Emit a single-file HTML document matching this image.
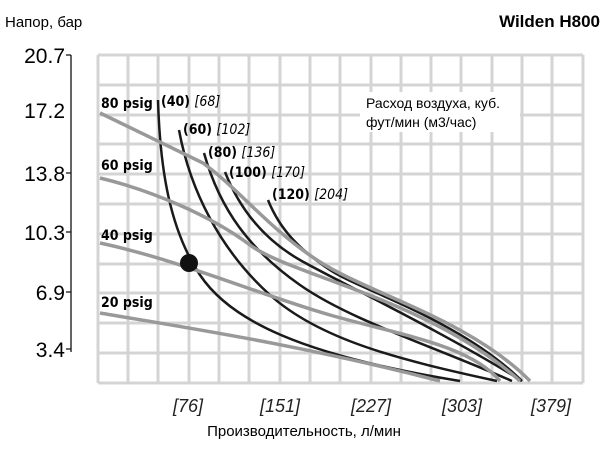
<html><body style="margin:0;background:#fff">
<svg width="606" height="454" xmlns="http://www.w3.org/2000/svg" font-family="Liberation Sans, sans-serif">
<rect width="606" height="454" fill="#fff"/>
<g stroke="#d4d4d4" stroke-width="3">
<path d="M98,55V383M128,55V383M158,55V383M189,55V383M219,55V383M249,55V383M280,55V383M310,55V383M340,55V383M371,55V383M401,55V383M431,55V383M461,55V383M492,55V383M522,55V383M552,55V383M583,55V383"/>
<path d="M98,55H583M98,85H583M98,115H583M98,144H583M98,174H583M98,204H583M98,234H583M98,264H583M98,293H583M98,323H583M98,353H583M98,383H583"/>
</g>
<rect x="360" y="92" width="160" height="40" fill="#fff"/>
<text x="366" y="108" font-size="14">Расход воздуха, куб.</text>
<text x="366" y="127" font-size="14">фут/мин (м3/час)</text>
<g fill="none" stroke="#1a1a1a" stroke-width="2.5">
<path d="M158,100 C160,170 170,230 200,275 S300,355 460,381"/>
<path d="M179,130 C190,190 220,250 270,295 S400,360 497,381"/>
<path d="M204,153 C220,210 250,250 300,285 S430,345 512,381"/>
<path d="M225,172 C240,210 265,240 300,260 S440,330 522,381"/>
<path d="M268,200 C280,230 300,250 330,270 S460,320 522,381"/>
</g>
<g fill="none" stroke="#999" stroke-width="3.5">
<path d="M100,113 L203,163 C240,190 270,230 320,262 S470,320 530,381"/>
<path d="M100,178 C150,190 210,215 250,245 S430,300 520,381"/>
<path d="M100,243 C180,260 260,295 330,315 S470,345 500,381"/>
<path d="M100,313 C200,330 300,345 440,381"/>
</g>
<circle cx="189" cy="263" r="9" fill="#111"/>
<g font-size="14" font-weight="bold" font-family="DejaVu Sans Condensed, Liberation Sans, sans-serif">
<text x="101" y="108">80 psig</text>
<text x="101" y="170">60 psig</text>
<text x="101" y="240">40 psig</text>
<text x="101" y="307">20 psig</text>
<text x="161" y="106">(40) <tspan font-weight="normal" font-style="italic">[68]</tspan></text>
<text x="183" y="134">(60) <tspan font-weight="normal" font-style="italic">[102]</tspan></text>
<text x="208" y="157">(80) <tspan font-weight="normal" font-style="italic">[136]</tspan></text>
<text x="229" y="177">(100) <tspan font-weight="normal" font-style="italic">[170]</tspan></text>
<text x="272" y="199">(120) <tspan font-weight="normal" font-style="italic">[204]</tspan></text>
</g>
<path d="M71,55V352M66,55H71M66,173H71M66,232H71M66,292H71M66,349H71" stroke="#111" stroke-width="1.3" fill="none"/>
<g font-size="21" text-anchor="end">
<text x="65" y="63">20.7</text>
<text x="65" y="118">17.2</text>
<text x="65" y="181">13.8</text>
<text x="65" y="240">10.3</text>
<text x="65" y="300">6.9</text>
<text x="65" y="357">3.4</text>
</g>
<g font-size="18" font-style="italic" text-anchor="middle" fill="#222">
<text x="188" y="412">[76]</text>
<text x="280" y="412">[151]</text>
<text x="371" y="412">[227]</text>
<text x="462" y="412">[303]</text>
<text x="551" y="412">[379]</text>
</g>
<text x="304" y="436" font-size="15" text-anchor="middle">Производительность, л/мин</text>
<text x="5" y="27" font-size="15">Напор, бар</text>
<text x="600" y="27" font-size="17" font-weight="bold" text-anchor="end">Wilden H800</text>
</svg>
</body></html>
